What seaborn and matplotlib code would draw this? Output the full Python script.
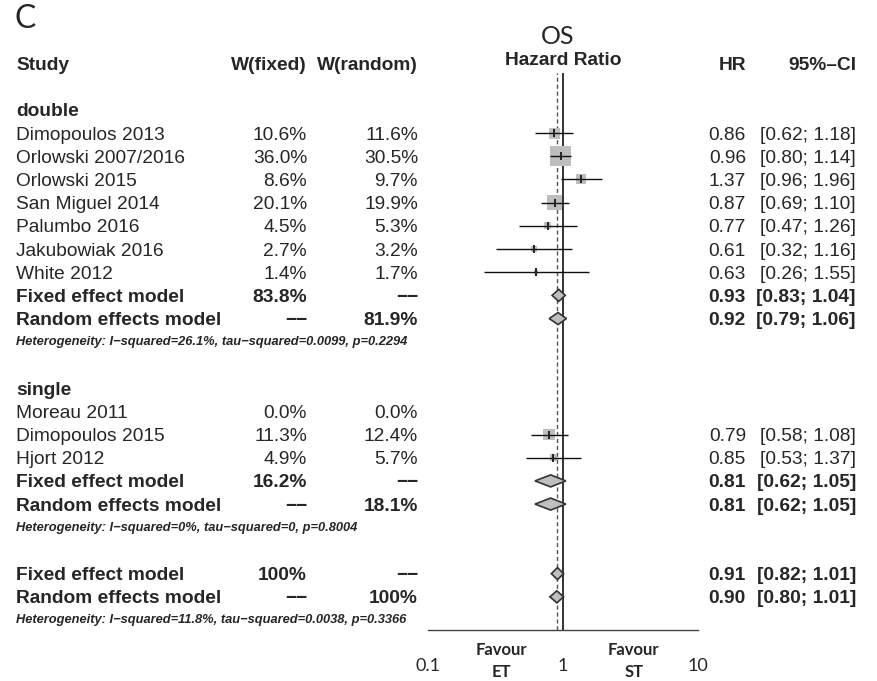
import matplotlib
matplotlib.use("Agg")
import matplotlib.pyplot as plt
import matplotlib.transforms as mtransforms
from matplotlib.ticker import NullLocator
import numpy as np
import seaborn as sns

# ---- data ----
double_studies = ["Dimopoulos 2013", "Orlowski 2007/2016", "Orlowski 2015", "San Miguel 2014",
                  "Palumbo 2016", "Jakubowiak 2016", "White 2012"]
double_hr = [0.86, 0.96, 1.37, 0.87, 0.77, 0.61, 0.63]
double_lo = [0.62, 0.80, 0.96, 0.69, 0.47, 0.32, 0.26]
double_hi = [1.18, 1.14, 1.96, 1.10, 1.26, 1.16, 1.55]
double_wf = [10.6, 36.0, 8.6, 20.1, 4.5, 2.7, 1.4]
double_wr = [11.6, 30.5, 9.7, 19.9, 5.3, 3.2, 1.7]

single_studies = ["Moreau 2011", "Dimopoulos 2015", "Hjort 2012"]
single_hr = [np.nan, 0.79, 0.85]
single_lo = [np.nan, 0.58, 0.53]
single_hi = [np.nan, 1.08, 1.37]
single_wf = [0.0, 11.3, 4.9]
single_wr = [0.0, 12.4, 5.7]

model_names = ["Fixed effect model", "Random effects model"]
double_model_hr = [0.93, 0.92]
double_model_lo = [0.83, 0.79]
double_model_hi = [1.04, 1.06]
double_model_w = [83.8, 81.9]
single_model_hr = [0.81, 0.81]
single_model_lo = [0.62, 0.62]
single_model_hi = [1.05, 1.05]
single_model_w = [16.2, 18.1]
overall_hr = [0.91, 0.90]
overall_lo = [0.82, 0.80]
overall_hi = [1.01, 1.01]
overall_w = [100, 100]

het_i2 = ["26.1%", "0%", "11.8%"]
het_tau2 = ["0.0099", "0", "0.0038"]
het_p = ["0.2294", "0.8004", "0.3366"]

groups = [
    ("double", double_studies, double_hr, double_lo, double_hi, double_wf, double_wr,
     double_model_hr, double_model_lo, double_model_hi, double_model_w),
    ("single", single_studies, single_hr, single_lo, single_hi, single_wf, single_wr,
     single_model_hr, single_model_lo, single_model_hi, single_model_w),
]

# ---- figure ----
sns.set_style("white")
plt.rcParams["font.family"] = ["Liberation Sans", "DejaVu Sans"]
W, H = 878, 681
fig = plt.figure(figsize=(W / 100, H / 100), dpi=100)
ax = fig.add_axes([428 / W, 51 / H, 270 / W, 557 / H])
ax.set_xscale("log")
ax.set_xlim(0.1, 10)
ax.set_ylim(24.43, 0.41)
trans = mtransforms.blended_transform_factory(fig.transFigure, ax.transData)

FS = 13.8
DY = 0.09  # text sits a touch lower than the bbox centre
DASH = "\u2212\u2212"
X_STUDY, X_WF, X_WR, X_HR, X_CI = 16, 307, 418, 746, 856


def put(xpx, row, s, ha="left", bold=False, size=FS, italic=False):
    ax.text(xpx / W, row + DY, s, transform=trans, ha=ha, va="center", fontsize=size,
            fontweight="bold" if bold else "normal",
            fontstyle="italic" if italic else "normal", clip_on=False)


def fmt_w(w):
    return "100%" if w == 100 else f"{w:.1f}%"


def diamond(hr, lo, hi, row, h=0.26):
    ax.fill([lo, hr, hi, hr], [row, row - h, row, row + h], facecolor="#bebebe",
            edgecolor="#333333", lw=1.2, zorder=4)


def model_rows(row, hrs, los, his, ws, het_idx):
    for k in range(2):
        put(X_STUDY, row + k, model_names[k], bold=True)
        put(X_WF, row + k, fmt_w(ws[k]) if k == 0 else DASH, ha="right", bold=True)
        put(X_WR, row + k, fmt_w(ws[k]) if k == 1 else DASH, ha="right", bold=True)
        put(X_HR, row + k, f"{hrs[k]:.2f}", ha="right", bold=True)
        put(X_CI, row + k, f"[{los[k]:.2f}; {his[k]:.2f}]", ha="right", bold=True)
        diamond(hrs[k], los[k], his[k], row + k)
    het = (f"Heterogeneity: I\u2212squared={het_i2[het_idx]}, "
           f"tau\u2212squared={het_tau2[het_idx]}, p={het_p[het_idx]}")
    put(X_STUDY, row + 2 - 0.08, het, bold=True, italic=True, size=9.3)


# header
put(X_STUDY, 0, "Study", bold=True)
put(X_WF, 0, "W(fixed)", ha="right", bold=True)
put(X_WR, 0, "W(random)", ha="right", bold=True)
put(X_HR, 0, "HR", ha="right", bold=True)
put(X_CI, 0, "95%\u2013CI", ha="right", bold=True)
ax.text(1.0, -0.12, "Hazard Ratio", ha="center", va="center", fontsize=FS,
        fontweight="bold", clip_on=False)
ax.text(0.91, -1.15, "OS", ha="center", va="center", fontsize=18,
        family="Lato", clip_on=False)
fig.text(14 / W, 1 - 19 / H, "C", ha="left", va="center", fontsize=23, family="Lato")

# reference lines
ax.axvline(1, color="#333333", lw=1.4, zorder=1)
ax.axvline(overall_hr[0], color="#555555", lw=1.0, ls=(0, (3, 2)), zorder=1)

row = 1
for gi, (gname, studies, hr, lo, hi, wf, wr, mhr, mlo, mhi, mw) in enumerate(groups):
    row += 1
    put(X_STUDY, row, gname, bold=True)
    rows = []
    for i, name in enumerate(studies):
        row += 1
        rows.append(row)
        put(X_STUDY, row, name)
        put(X_WF, row, fmt_w(wf[i]), ha="right")
        put(X_WR, row, fmt_w(wr[i]), ha="right")
        if not np.isnan(hr[i]):
            put(X_HR, row, f"{hr[i]:.2f}", ha="right")
            put(X_CI, row, f"[{lo[i]:.2f}; {hi[i]:.2f}]", ha="right")
    rows = np.array(rows, dtype=float)
    ok = ~np.isnan(np.array(hr, dtype=float))
    sns.scatterplot(x=np.array(hr)[ok], y=rows[ok], size=np.array(wf)[ok],
                    sizes=(0, 215), size_norm=(0, 36), marker="s", color="#bebebe",
                    edgecolor="none", legend=False, ax=ax, zorder=2)
    ax.hlines(rows[ok], np.array(lo)[ok], np.array(hi)[ok], color="#111111", lw=1.0, zorder=3)
    ax.plot(np.array(hr)[ok], rows[ok], marker="|", ls="none", ms=6, mew=1.4,
            color="#222222", zorder=3)
    model_rows(row + 1, mhr, mlo, mhi, mw, gi)
    row += 4

model_rows(row + 1, overall_hr, overall_lo, overall_hi, overall_w, 2)

# axis styling
for side in ["top", "left", "right"]:
    ax.spines[side].set_visible(False)
ax.spines["bottom"].set_color("#444444")
ax.spines["bottom"].set_linewidth(1.0)
ax.set_yticks([])
ax.set_xticks([0.1, 1, 10])
ax.set_xticklabels(["0.1", "1", "10"], family="Lato", fontsize=13)
ax.xaxis.set_minor_locator(NullLocator())
ax.tick_params(axis="x", direction="out", length=9.5, width=1.0, color="#444444", pad=11)
ax.set_facecolor("none")

for xpos in [0.35, 3.35]:
    ax.text(xpos, 25.28, "Favour", ha="center", va="center", fontsize=12,
            family="Lato", fontweight="bold", clip_on=False)
ax.text(0.35, 26.23, "ET", ha="center", va="center", fontsize=12,
        family="Lato", fontweight="bold", clip_on=False)
ax.text(3.35, 26.23, "ST", ha="center", va="center", fontsize=12,
        family="Lato", fontweight="bold", clip_on=False)

fig.savefig("out.png", dpi=100)
